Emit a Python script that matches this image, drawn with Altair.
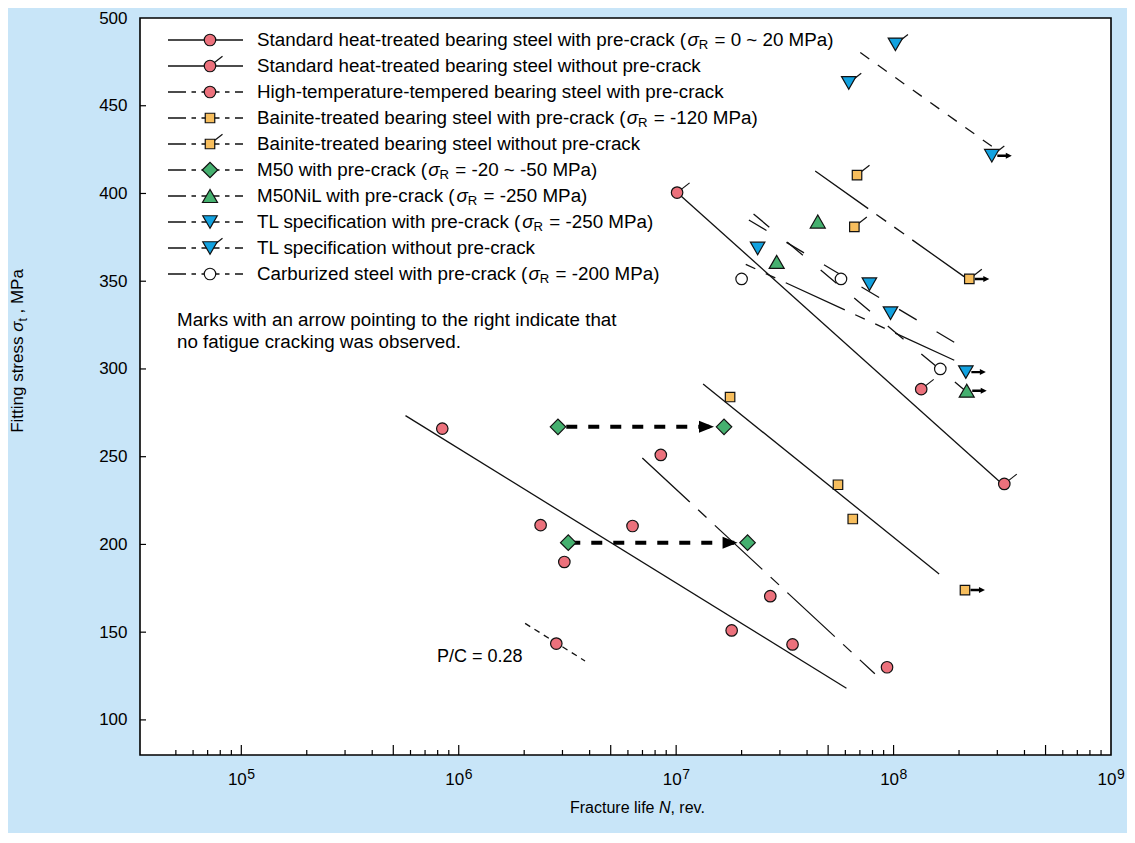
import altair as alt
import pandas as pd

# ---------------- data ----------------
std_pre_N = [8.4e5, 2.38e6, 3.06e6, 6.3e6, 1.80e7, 3.43e7]
std_pre_S = [266, 211, 190, 210.5, 151, 143]
std_wo_N = [1.01e7, 1.34e8, 3.23e8]
std_wo_S = [400.5, 288.5, 234.5]
ht_N = [8.5e6, 2.71e7, 9.33e7, 2.81e6]
ht_S = [251, 170.5, 130, 143.5]
bain_pre_N = [1.77e7, 5.55e7, 6.49e7, 2.13e8]
bain_pre_S = [284, 234, 214.5, 174]
bain_pre_run = [0, 0, 0, 1]
bain_wo_N = [6.79e7, 6.6e7, 2.23e8]
bain_wo_S = [410.5, 381, 351.3]
bain_wo_run = [0, 0, 1]
m50_N = [2.86e6, 1.66e7, 3.19e6, 2.13e7]
m50_S = [267, 267, 201, 201]
m50nil_N = [4.48e7, 2.9e7, 2.17e8]
m50nil_S = [384, 361, 287.6]
m50nil_run = [0, 0, 1]
tl_pre_N = [2.37e7, 7.74e7, 9.68e7, 2.15e8]
tl_pre_S = [368.7, 348.3, 331.8, 298.2]
tl_pre_run = [0, 0, 0, 1]
tl_wo_N = [1.02e8, 6.22e7, 2.83e8]
tl_wo_S = [485, 463, 421.5]
tl_wo_run = [0, 0, 1]
carb_N = [2.0e7, 5.73e7, 1.64e8]
carb_S = [351.3, 351.3, 300]

# M50 dashed arrows (from -> to)
m50_arrow_from = [2.86e6, 3.19e6]
m50_arrow_to = [1.66e7, 2.13e7]
m50_arrow_S = [267, 201]

# fitted lines: end points
fit_std_pre_N, fit_std_pre_S = [5.69e5, 6.07e7], [273.4, 118.0]
fit_std_wo_N, fit_std_wo_S = [1.01e7, 3.06e8], [400.6, 236.0]
fit_ht_N, fit_ht_S = [6.99e6, 8.2e7], [249.2, 126.3]
fit_pc_N, fit_pc_S = [2.02e6, 3.81e6], [155.0, 133.6]
fit_bain_pre_N, fit_bain_pre_S = [1.33e7, 1.62e8], [291.4, 183.2]
fit_bain_wo_N, fit_bain_wo_S = [4.36e7, 2.11e8], [412.8, 352.6]
fit_tl_wo_N, fit_tl_wo_S = [7.03e7, 2.85e8], [480.3, 426.6]
fit_tl_pre_N, fit_tl_pre_S = [2.09e7, 1.92e8], [359.6, 304.7]
fit_m50nil_N, fit_m50nil_S = [2.16e7, 1.93e8], [384.9, 314.7]
fit_carb_N, fit_carb_S = [2.27e7, 2.11e8], [388.3, 288.2]

y_ticks = [100, 150, 200, 250, 300, 350, 400, 450, 500]
x_label_N = [1e5, 1e6, 1e7, 1e8, 1e9]
x_label_exp = ["5", "6", "7", "8", "9"]

legend_labels = [
    ("Standard heat-treated bearing steel with pre-crack (", "= 0 ~ 20 MPa)"),
    ("Standard heat-treated bearing steel without pre-crack", None),
    ("High-temperature-tempered bearing steel with pre-crack", None),
    ("Bainite-treated bearing steel with pre-crack (", "= -120 MPa)"),
    ("Bainite-treated bearing steel without pre-crack", None),
    ("M50 with pre-crack (", "= -20 ~ -50 MPa)"),
    ("M50NiL with pre-crack (", "= -250 MPa)"),
    ("TL specification with pre-crack (", "= -250 MPa)"),
    ("TL specification without pre-crack", None),
    ("Carburized steel with pre-crack (", "= -200 MPa)"),
]

# ---------------- styling ----------------
FONT = "Liberation Sans"
BG = "#c8e5f8"
RED, ORANGE, GREEN, BLUE, WHITE = "#ec717c", "#f7be5d", "#45b06f", "#12a2e0", "#ffffff"
INK = "#111111"
W, H = 971, 737
XS = alt.Scale(type="log", domain=[34200, 1e9], nice=False)
YS = alt.Scale(domain=[80, 500], nice=False, zero=False)
YAX = alt.Axis(values=y_ticks, ticks=False, domain=False, grid=False, labelFont=FONT,
               labelFontSize=17, labelColor="black", labelPadding=13, title=None)

TAIL = "M0,0L1,-0.78"
RUN = "M0.55,-0.12L1.4,-0.12L1.4,-0.3L2,0L1.4,0.3L1.4,0.12L0.55,0.12Z"
HEAD = "M-1,0L-2.5,-0.6L-2.5,0.6Z"

AW = {' ': 278, '(': 333, ')': 333, ',': 278, '-': 333, '.': 278, '/': 278, '=': 584, '~': 584,
      'σ': 600}
for c in "0123456789":
    AW[c] = 556
AW.update(dict(zip("ABCDEFGHIJKLMNOPQRSTUVWXYZ",
                   [667, 667, 722, 722, 667, 611, 778, 722, 278, 500, 667, 556, 833, 722, 778, 667,
                    778, 722, 667, 611, 722, 667, 944, 667, 667, 611])))
AW.update(dict(zip("abcdefghijklmnopqrstuvwxyz",
                   [556, 556, 500, 556, 556, 278, 556, 556, 222, 222, 500, 222, 833, 556, 556, 556,
                    556, 333, 500, 278, 556, 500, 722, 500, 500, 500])))


def tw(s, size):
    return sum(AW.get(c, 556) for c in s) * size / 1000.0


def xe(f):
    return alt.X(f"{f}:Q", scale=XS, axis=None)


def ye(f):
    return alt.Y(f"{f}:Q", scale=YS, axis=YAX)


one = pd.DataFrame({"a": [0]})
layers = []

# ---------------- fit lines ----------------
FITS = [
    (fit_std_pre_N, fit_std_pre_S, None),
    (fit_std_wo_N, fit_std_wo_S, None),
    (fit_ht_N, fit_ht_S, [64.7, 11.4, 11.4, 11.4]),
    (fit_pc_N, fit_pc_S, [6, 5]),
    (fit_bain_pre_N, fit_bain_pre_S, None),
    (fit_bain_wo_N, fit_bain_wo_S, [65, 10, 12, 10, 12, 10]),
    (fit_tl_wo_N, fit_tl_wo_S, [11, 10.5]),
    (fit_tl_pre_N, fit_tl_pre_S, [10.5, 11.5, 10.5, 11.5, 65, 11.5]),
    (fit_m50nil_N, fit_m50nil_S, [20.5, 23.2]),
    (fit_carb_N, fit_carb_S, [20.5, 23.2]),
]
for Ns, Ss, dash in FITS:
    kw = dict(color=INK, strokeWidth=1.3)
    if dash:
        kw["strokeDash"] = dash
    layers.append(alt.Chart(pd.DataFrame({"N": Ns, "S": Ss})).mark_line(**kw)
                  .encode(x=xe("N"), y=ye("S")))

# ---------------- M50 dashed arrows ----------------
for i, off in enumerate([13.7, 21]):
    d = pd.DataFrame({"N0": [m50_arrow_from[i]], "N1": [m50_arrow_to[i]], "S": [m50_arrow_S[i]]})
    layers.append(alt.Chart(d).mark_rule(color="black", strokeWidth=4, strokeDash=[11, 11],
                                         strokeDashOffset=off)
                  .encode(x=xe("N0"), x2="N1:Q", y=ye("S")))

# ---------------- series ----------------
SERIES = [
    dict(N=std_pre_N, S=std_pre_S, run=None, shape="circle", fill=RED, size=132, tail=False, dash=False),
    dict(N=std_wo_N, S=std_wo_S, run=None, shape="circle", fill=RED, size=132, tail=True, dash=False),
    dict(N=ht_N, S=ht_S, run=None, shape="circle", fill=RED, size=132, tail=False, dash=True),
    dict(N=bain_pre_N, S=bain_pre_S, run=bain_pre_run, shape="square", fill=ORANGE, size=90, tail=False, dash=True),
    dict(N=bain_wo_N, S=bain_wo_S, run=bain_wo_run, shape="square", fill=ORANGE, size=90, tail=True, dash=True),
    dict(N=m50_N, S=m50_S, run=None, shape="diamond", fill=GREEN, size=240, tail=False, dash=True),
    dict(N=m50nil_N, S=m50nil_S, run=m50nil_run, shape="triangle-up", fill=GREEN, size=225, tail=False, dash=True),
    dict(N=tl_pre_N, S=tl_pre_S, run=tl_pre_run, shape="triangle-down", fill=BLUE, size=210, tail=False, dash=True),
    dict(N=tl_wo_N, S=tl_wo_S, run=tl_wo_run, shape="triangle-down", fill=BLUE, size=210, tail=True, dash=True),
    dict(N=carb_N, S=carb_S, run=None, shape="circle", fill=WHITE, size=132, tail=False, dash=True),
]

tail_kw = dict(shape=TAIL, filled=False, stroke=INK, strokeWidth=1.2, size=625, opacity=1)
run_kw = dict(shape=RUN, filled=True, fill="black", strokeWidth=0, size=400, opacity=1)


def marker_kw(s):
    return dict(shape=s["shape"], filled=True, fill=s["fill"], stroke=INK, strokeWidth=1.2,
                size=s["size"], opacity=1)


for s in SERIES:
    d = pd.DataFrame({"N": s["N"], "S": s["S"]})
    if s["tail"]:
        layers.append(alt.Chart(d).mark_point(**tail_kw).encode(x=xe("N"), y=ye("S")))
    if s["run"] is not None:
        dr = d[[r == 1 for r in s["run"]]]
        layers.append(alt.Chart(dr).mark_point(**run_kw).encode(x=xe("N"), y=ye("S")))
for s in SERIES:
    d = pd.DataFrame({"N": s["N"], "S": s["S"]})
    layers.append(alt.Chart(d).mark_point(**marker_kw(s)).encode(x=xe("N"), y=ye("S")))

# arrow heads of the M50 arrows
layers.append(alt.Chart(pd.DataFrame({"N": m50_arrow_to, "S": m50_arrow_S}))
              .mark_point(shape=HEAD, filled=True, fill="black", strokeWidth=0, size=400, opacity=1)
              .encode(x=xe("N"), y=ye("S")))

# ---------------- inward ticks ----------------
major_x = [1e5, 1e6, 1e7, 1e8, 5e5, 5e6, 5e7, 5e8]
minor_x = [m * 1e4 for m in (5, 6, 7, 8, 9)] + [m * 10 ** e for e in (5, 6, 7, 8)
                                                for m in (2, 3, 4, 6, 7, 8, 9)]
layers.append(alt.Chart(pd.DataFrame({"v": major_x})).mark_rule(color="black", strokeWidth=1.2)
              .encode(x=xe("v"), y=alt.value(H), y2=alt.value(H - 10)))
layers.append(alt.Chart(pd.DataFrame({"v": minor_x})).mark_rule(color="black", strokeWidth=1.2)
              .encode(x=xe("v"), y=alt.value(H), y2=alt.value(H - 5)))
layers.append(alt.Chart(pd.DataFrame({"v": y_ticks[:-1]})).mark_rule(color="black", strokeWidth=1.2)
              .encode(y=ye("v"), x=alt.value(0), x2=alt.value(6)))

# x tick labels 10^n
xl = pd.DataFrame({"N": x_label_N, "e": x_label_exp, "t": ["10"] * 5})
layers.append(alt.Chart(xl).mark_text(font=FONT, fontSize=17, align="right", baseline="alphabetic",
                                      dx=5.5, color="black")
              .encode(x=xe("N"), y=alt.value(767), text="t:N"))
layers.append(alt.Chart(xl).mark_text(font=FONT, fontSize=14, align="left", baseline="alphabetic",
                                      dx=6, color="black")
              .encode(x=xe("N"), y=alt.value(761), text="e:N"))

# ---------------- axis titles ----------------
XFS = 16
xt_parts = [("Fracture life", "normal", 0), ("N", "italic", 1), (", rev.", "normal", 0)]
pos = 430
for txt, st, sp in xt_parts:
    pos += sp * tw(" ", XFS)
    layers.append(alt.Chart(one).mark_text(text=txt, font=FONT, fontSize=XFS, fontStyle=st,
                                           align="left", baseline="middle", color="black")
                  .encode(x=alt.value(pos), y=alt.value(790)))
    pos += tw(txt, XFS)

TFS = 17
yt_parts = [("Fitting stress", "normal", TFS, 0, 0), ("σ", "italic", TFS, 0, 1),
            ("t", "normal", 12, 5, 0), (", MPa", "normal", TFS, 0, 1)]
y_total = sum(tw(t, f) for t, _, f, _, _ in yt_parts) + 2 * tw(" ", TFS)
off = -y_total / 2
for txt, st, fs, dy, sp in yt_parts:
    off += sp * tw(" ", TFS)
    layers.append(alt.Chart(one).mark_text(text=txt, font=FONT, fontSize=fs, fontStyle=st,
                                           align="left", baseline="middle", angle=270, dx=off,
                                           dy=dy, color="black")
                  .encode(x=alt.value(-122), y=alt.value(333)))
    off += tw(txt, fs)

# ---------------- legend ----------------
LX0, LX1, LMX, LTX = 28, 103, 70, 117
LY0, LDY = 22, 26
LFS = 18.8
for i, s in enumerate(SERIES):
    yy = LY0 + LDY * i
    rkw = dict(color=INK, strokeWidth=1.3)
    if s["dash"]:
        rkw["strokeDash"] = [18, 5.5, 4.5, 5.5]
    layers.append(alt.Chart(one).mark_rule(**rkw)
                  .encode(x=alt.value(LX0), x2=alt.value(LX1), y=alt.value(yy)))
    if s["tail"]:
        layers.append(alt.Chart(one).mark_point(**tail_kw).encode(x=alt.value(LMX), y=alt.value(yy)))
    layers.append(alt.Chart(one).mark_point(**marker_kw(s)).encode(x=alt.value(LMX), y=alt.value(yy)))

normal_rows, sig_rows, sub_rows = [], [], []
for i, (pre, suf) in enumerate(legend_labels):
    yy = LY0 + LDY * i
    normal_rows.append((LTX, yy, pre))
    if suf is not None:
        xs = LTX + tw(pre, LFS) + 1
        sig_rows.append((xs, yy, "σ"))
        xr = xs + tw("σ", LFS)
        sub_rows.append((xr, yy + 5, "R"))
        normal_rows.append((xr + AW["R"] * 0.7 * LFS / 1000 + tw(" ", LFS) + 1, yy, suf))


def text_layer(rows, size, style):
    d = pd.DataFrame(rows, columns=["px", "py", "t"])
    return (alt.Chart(d).mark_text(font=FONT, fontSize=size, fontStyle=style, align="left",
                                   baseline="middle", color="black")
            .encode(x=alt.X("px:Q", scale=None), y=alt.Y("py:Q", scale=None), text="t:N"))


layers.append(text_layer(normal_rows, LFS, "normal"))
layers.append(text_layer(sig_rows, LFS, "italic"))
layers.append(text_layer(sub_rows, LFS * 0.7, "normal"))

# notes
for txt, yy in [("Marks with an arrow pointing to the right indicate that", 302),
                ("no fatigue cracking was observed.", 324)]:
    layers.append(alt.Chart(one).mark_text(text=txt, font=FONT, fontSize=LFS, align="left",
                                           baseline="middle", color="black")
                  .encode(x=alt.value(37), y=alt.value(yy)))
layers.append(alt.Chart(one).mark_text(text="P/C = 0.28", font=FONT, fontSize=18, align="left",
                                       baseline="middle", color="black")
              .encode(x=alt.value(297), y=alt.value(639)))

chart = (alt.layer(*layers)
         .properties(width=W, height=H, autosize=alt.AutoSizeParams(type="none"),
                     padding={"left": 132, "top": 10, "right": 16, "bottom": 78})
         .configure(background=BG)
         .configure_view(fill="white", stroke="black", strokeWidth=1.6))

chart.save("out.html", embed_options={"renderer": "svg", "actions": False})
